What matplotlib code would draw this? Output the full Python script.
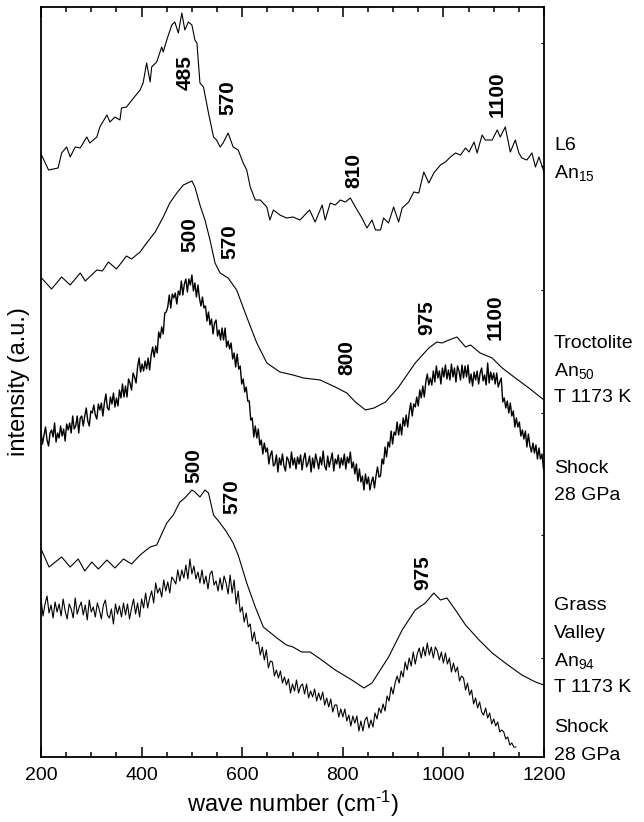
import numpy as np
import matplotlib
matplotlib.use("Agg")
import matplotlib.pyplot as plt
from matplotlib.ticker import MultipleLocator, FixedLocator

plt.rcParams['font.family'] = ['Liberation Sans', 'DejaVu Sans']
plt.rcParams['mathtext.fontset'] = 'custom'
plt.rcParams['mathtext.rm'] = 'Liberation Sans'
plt.rcParams['mathtext.it'] = 'Liberation Sans:italic'

# L6 chondrite, An15 (stacked, offset intensity)
l6_wn = [201, 215, 234, 241, 251, 258, 268, 278, 291, 297,
         311, 317, 331, 337, 347, 357, 360, 370, 384, 397,
         403, 410, 417, 420, 430, 440, 443, 450, 460, 466,
         473, 480, 486, 493, 500, 506, 510, 516, 523, 533,
         543, 549, 556, 562, 572, 582, 592, 602, 609, 616,
         626, 636, 649, 655, 662, 675, 688, 701, 715, 728,
         734, 745, 759, 765, 775, 785, 795, 805, 815, 825,
         838, 848, 858, 865, 875, 881, 891, 901, 911, 918,
         931, 941, 951, 961, 971, 981, 994, 1004, 1014, 1024,
         1034, 1044, 1051, 1061, 1067, 1077, 1083, 1097, 1107, 1113,
         1123, 1133, 1143, 1150, 1156, 1166, 1176, 1183, 1190, 1200]
l6_int = [602, 587, 589, 604, 610, 600, 610, 609, 620, 614,
          620, 630, 642, 635, 640, 637, 649, 650, 659, 667,
          674, 694, 675, 690, 695, 710, 705, 717, 732, 735,
          724, 744, 727, 735, 732, 717, 714, 674, 670, 644,
          620, 617, 610, 614, 624, 610, 607, 594, 587, 570,
          557, 557, 550, 537, 547, 542, 539, 540, 537, 544,
          547, 535, 552, 537, 554, 552, 557, 555, 559, 550,
          539, 529, 537, 527, 527, 539, 534, 550, 535, 549,
          555, 565, 564, 585, 574, 584, 592, 595, 600, 604,
          602, 609, 605, 615, 604, 622, 617, 617, 627, 620,
          630, 605, 617, 604, 599, 597, 604, 590, 600, 585]

# Troctolite An50, annealed at 1173 K
troc_wn = [201, 221, 241, 258, 278, 288, 311, 322, 334, 350,
           370, 380, 397, 410, 427, 443, 456, 470, 483, 500,
           506, 516, 526, 536, 546, 556, 572, 589, 609, 629,
           649, 675, 701, 722, 755, 785, 808, 825, 845, 862,
           885, 911, 944, 971, 987, 997, 1011, 1027, 1044, 1054,
           1073, 1097, 1117, 1143, 1170, 1200]
troc_int = [479, 468, 480, 472, 484, 476, 487, 486, 495, 488,
            501, 498, 505, 514, 525, 540, 554, 564, 572, 576,
            570, 552, 537, 517, 494, 484, 479, 467, 440, 414,
            394, 385, 382, 379, 377, 370, 364, 355, 347, 349,
            355, 370, 394, 409, 415, 414, 417, 420, 410, 412,
            404, 399, 389, 379, 369, 357]

# Troctolite shocked to 28 GPa, sampled every 3 cm-1 (200..1199)
shock1_wn = np.arange(200, 1200, 3)
shock1_int = [325, 313, 322, 330, 317, 311, 324, 327, 320, 334,
              315, 324, 319, 331, 321, 328, 316, 333, 327, 334,
              324, 341, 328, 331, 341, 324, 339, 341, 331, 341,
              349, 336, 331, 346, 344, 352, 342, 338, 353, 347,
              354, 341, 354, 363, 349, 347, 360, 353, 364, 350,
              359, 351, 367, 359, 373, 360, 371, 360, 378, 374,
              367, 384, 380, 374, 390, 399, 385, 393, 386, 396,
              388, 399, 387, 402, 410, 400, 411, 404, 425, 419,
              430, 423, 444, 445, 450, 462, 449, 463, 459, 464,
              453, 466, 462, 476, 462, 473, 478, 465, 478, 472,
              482, 466, 474, 460, 472, 459, 451, 460, 449, 451,
              436, 445, 432, 438, 423, 434, 437, 421, 427, 417,
              429, 417, 429, 410, 416, 408, 414, 398, 404, 390,
              403, 388, 391, 373, 378, 365, 370, 356, 356, 337,
              339, 320, 331, 319, 328, 312, 317, 303, 314, 305,
              309, 293, 302, 306, 291, 293, 302, 285, 299, 292,
              303, 291, 286, 300, 297, 289, 305, 292, 299, 288,
              300, 293, 302, 287, 298, 304, 290, 294, 301, 285,
              299, 289, 303, 296, 288, 300, 292, 306, 291, 287,
              301, 290, 297, 304, 286, 298, 293, 302, 289, 299,
              292, 303, 288, 300, 294, 305, 289, 295, 283, 293,
              276, 288, 275, 281, 267, 283, 273, 280, 267, 275,
              280, 269, 281, 290, 280, 281, 298, 293, 310, 300,
              315, 310, 326, 313, 325, 322, 335, 322, 333, 322,
              339, 331, 342, 330, 344, 354, 341, 353, 350, 360,
              351, 367, 359, 371, 360, 375, 383, 372, 379, 372,
              386, 375, 391, 379, 386, 373, 389, 380, 392, 378,
              387, 377, 393, 380, 389, 375, 391, 386, 377, 392,
              379, 391, 380, 392, 374, 383, 371, 385, 377, 386,
              373, 384, 389, 376, 382, 372, 394, 374, 385, 377,
              384, 373, 384, 370, 375, 379, 355, 359, 349, 356,
              344, 354, 341, 346, 330, 339, 330, 335, 321, 327,
              318, 326, 310, 323, 311, 305, 314, 304, 312, 298,
              309, 298, 303, 288]

# Grass Valley An94, annealed at 1173 K
gv_wn = [201, 216, 241, 258, 274, 287, 301, 314, 331, 347,
         364, 380, 397, 417, 430, 450, 463, 476, 486, 500,
         506, 516, 526, 533, 543, 556, 569, 582, 592, 609,
         626, 642, 669, 688, 701, 718, 735, 758, 785, 818,
         842, 858, 891, 918, 944, 964, 981, 994, 1007, 1024,
         1044, 1071, 1097, 1123, 1156, 1183, 1200]
gv_int = [207, 190, 200, 190, 198, 186, 195, 188, 197, 189,
          198, 193, 202, 210, 212, 234, 242, 255, 259, 267,
          265, 260, 267, 264, 242, 234, 225, 214, 202, 174,
          150, 130, 119, 112, 110, 105, 105, 97, 87, 77,
          69, 74, 100, 127, 147, 154, 164, 157, 159, 147,
          132, 117, 104, 94, 82, 75, 72]

# Grass Valley shocked to 28 GPa, sampled every 4 cm-1 (200..1144)
shock2_wn = np.arange(200, 1145, 4)
shock2_int = [158, 141, 153, 161, 144, 152, 139, 155, 145, 153,
              141, 158, 146, 138, 153, 148, 139, 159, 143, 150,
              155, 142, 152, 137, 157, 145, 150, 140, 154, 147,
              138, 152, 157, 142, 139, 148, 133, 153, 143, 151,
              140, 154, 142, 153, 138, 149, 158, 143, 154, 140,
              158, 149, 164, 149, 159, 166, 154, 174, 164, 169,
              160, 177, 166, 175, 164, 180, 177, 173, 187, 176,
              187, 179, 192, 178, 198, 183, 191, 178, 185, 174,
              187, 173, 181, 168, 183, 186, 172, 176, 166, 179,
              167, 181, 174, 163, 182, 164, 177, 153, 166, 145,
              150, 135, 144, 130, 133, 116, 125, 113, 115, 102,
              110, 97, 107, 89, 96, 95, 81, 87, 79, 86,
              74, 80, 72, 78, 64, 73, 66, 77, 64, 71,
              73, 63, 73, 59, 66, 60, 68, 56, 64, 57,
              65, 52, 59, 50, 58, 45, 52, 52, 40, 48,
              40, 48, 36, 42, 31, 41, 34, 41, 26, 36,
              26, 37, 40, 29, 37, 30, 44, 38, 49, 44,
              53, 46, 61, 56, 70, 63, 74, 81, 74, 86,
              80, 95, 87, 99, 91, 105, 93, 103, 109, 99,
              110, 101, 114, 102, 110, 99, 110, 106, 97, 105,
              94, 104, 93, 99, 85, 94, 85, 90, 76, 81,
              79, 67, 74, 62, 67, 53, 59, 49, 55, 45,
              42, 49, 39, 44, 33, 38, 31, 35, 25, 27,
              25, 18, 20, 12, 14, 10, 10]

# band assignments: (label, wave number, height)
peak_labels = [("485", 486, 684), ("570", 572, 659), ("810", 822, 587), ("1100", 1107, 663),
               ("500", 496, 522), ("570", 576, 515), ("800", 808, 399), ("975", 967, 439),
               ("1100", 1103, 440),
               ("500", 503, 291), ("570", 579, 260), ("975", 958, 184)]

# sample names at the right-hand side (text, height in figure pixels from top)
sample_names = [("L6", 145), (r"An$_{15}$", 173),
                ("Troctolite", 343), (r"An$_{50}$", 371), ("T 1173 K", 398),
                ("Shock", 468), ("28 GPa", 495),
                ("Grass", 605), ("Valley", 633), (r"An$_{94}$", 661), ("T 1173 K", 687),
                ("Shock", 727), ("28 GPa", 755)]

W, H = 644, 822
fig = plt.figure(figsize=(W / 100, H / 100), dpi=100)
ax = fig.add_axes([41 / W, 1 - 757 / H, 503 / W, 750 / H])

ax.plot(l6_wn, l6_int, color='black', lw=0.8)
ax.plot(troc_wn, troc_int, color='black', lw=0.8)
ax.plot(shock1_wn, shock1_int, color='black', lw=1.0)
ax.plot(gv_wn, gv_int, color='black', lw=0.8)
ax.plot(shock2_wn, shock2_int, color='black', lw=0.8)

for txt, xw, yv in peak_labels:
    ax.text(xw, yv, txt, rotation=90, ha='center', va='center',
            fontsize=15, fontweight='bold')

ax.set_xlim(200, 1200)
ax.set_ylim(0, 750)
ax.xaxis.set_major_locator(MultipleLocator(200))
ax.xaxis.set_minor_locator(MultipleLocator(50))
ax.tick_params(axis='x', which='both', direction='in', top=True, labelsize=14, pad=7)
ax.tick_params(axis='x', which='major', length=7, width=1.1)
ax.tick_params(axis='x', which='minor', length=3.5, width=1.1)
ax.yaxis.set_major_locator(FixedLocator([99, 222, 344, 467, 591, 714]))
ax.tick_params(axis='y', which='both', direction='in', left=False, right=True,
               labelleft=False, length=2, width=0.8)
for sp in ax.spines.values():
    sp.set_linewidth(1.3)

ax.set_xlabel(r"wave number (cm$^{\text{-1}}$)", fontsize=17, labelpad=4)
ax.set_ylabel("intensity (a.u.)", fontsize=17, labelpad=8)

for txt, py in sample_names:
    fig.text(554 / W, 1 - py / H, txt, ha='left', va='center', fontsize=14)

fig.savefig("out.png", dpi=100)
